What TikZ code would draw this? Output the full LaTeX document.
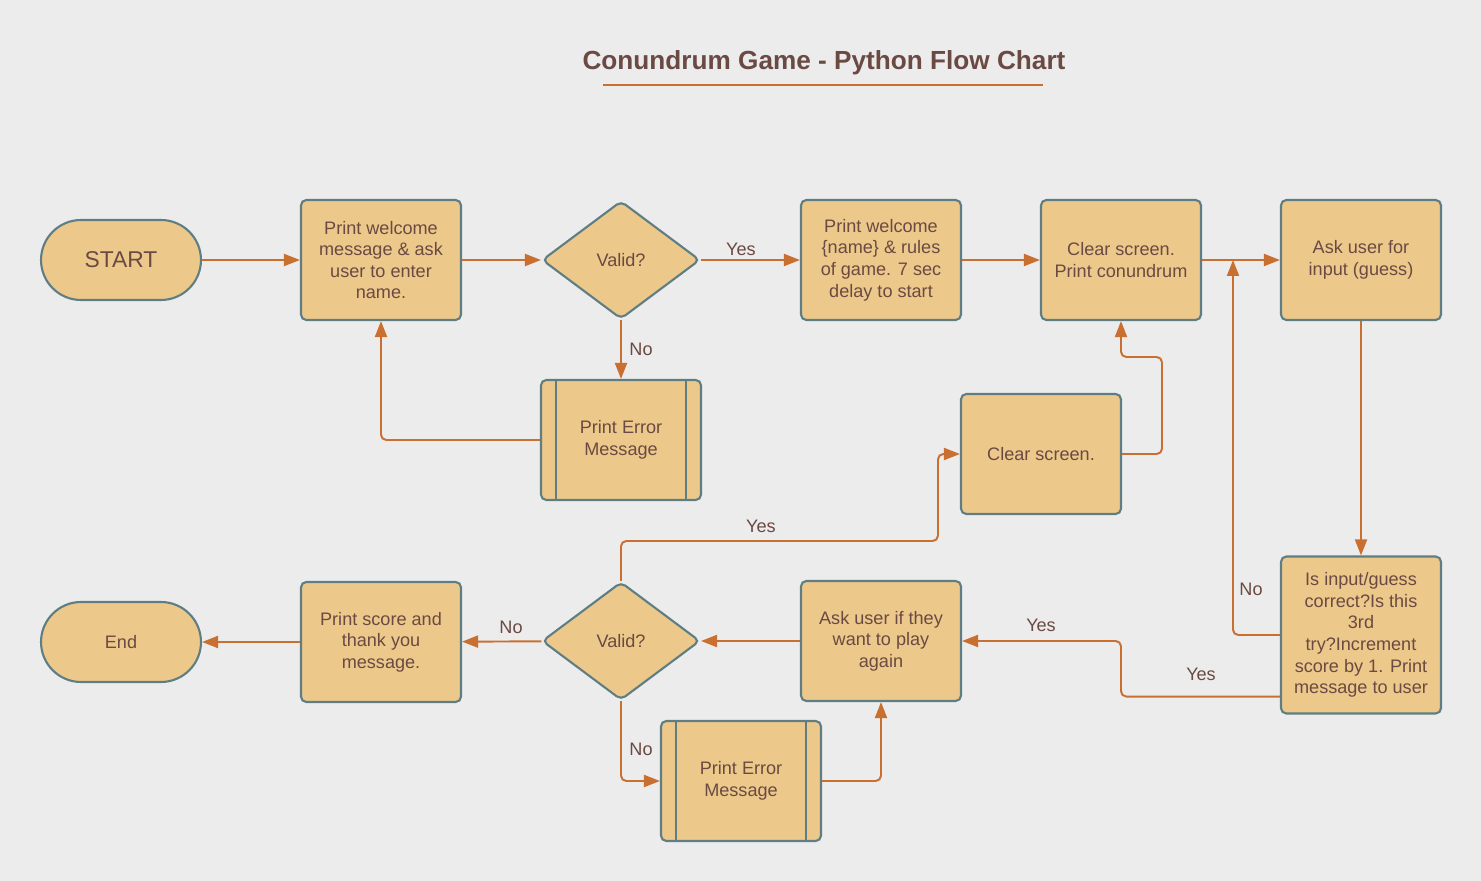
\documentclass[tikz,border=0pt]{standalone}
\usepackage{fontspec}
\setmainfont{Liberation Sans}
\usetikzlibrary{shapes.geometric,arrows.meta,calc}
\definecolor{bg}{HTML}{ECECEC}
\definecolor{boxfill}{HTML}{EDC88B}
\definecolor{boxline}{HTML}{5E7E83}
\definecolor{flow}{HTML}{C96F30}
\definecolor{ink}{HTML}{6A4A42}

\begin{document}
\begin{tikzpicture}[x=0.02cm,y=-0.02cm]
\tikzstyle{block}=[rectangle, draw=boxline, fill=boxfill, line width=1.2pt, rounded corners=3pt, minimum width=3.2cm, minimum height=2.4cm, inner sep=0pt, align=center, text=ink, font=\fontsize{10.3}{12.3}\selectfont]
\tikzstyle{term}=[block, minimum height=1.6cm, rounded corners=0.8cm]
\tikzstyle{decision}=[diamond, draw=boxline, fill=boxfill, line width=1.2pt, rounded corners=3pt, minimum width=3.16cm, minimum height=2.36cm, inner sep=0pt, text=ink, font=\fontsize{10.3}{12.3}\selectfont]
\tikzstyle{flowline}=[draw=flow, line width=1.1pt, rounded corners=3pt, -{Triangle[length=0.32cm,width=0.24cm]}]
\tikzstyle{tag}=[text=ink, font=\fontsize{10.3}{12.3}\selectfont, inner sep=1pt]

\fill[bg] (0,0) rectangle (1481,881);
\useasboundingbox (0,0) rectangle (1481,881);

% title
\node[text=ink, font=\fontsize{14.9}{17}\bfseries\selectfont] (title) at (824,63) {Conundrum Game - Python Flow Chart};
\coordinate (ulA) at (603,85);
\coordinate (ulB) at (1043,85);
\draw[flow, line width=1.2pt] (ulA) -- (ulB);

% top row
\node[term, font=\fontsize{13}{15}\selectfont] (start) at (121,260) {START};
\node[block] (welcome) at (381,260) {Print welcome\\message \& ask\\user to enter\\name.};
\node[decision] (valid1) at (621,260) {Valid?};
\node[block] (rules) at (881,260) {Print welcome\\\{name\} \& rules\\of game. 7 sec\\delay to start};
\node[block] (conund) at (1121,260) {Clear screen.\\Print conundrum};
\node[block] (guess) at (1361,260) {Ask user for\\input (guess)};

% middle
\node[block] (err1) at (621,440) {Print Error\\Message};
\node[block] (clear2) at (1041,454) {Clear screen.};
\node[block, minimum height=3.14cm] (check) at (1361,635) {Is input/guess\\correct?Is this\\3rd\\try?Increment\\score by 1. Print\\message to user};

% bottom row
\node[term] (end) at (121,642) {End};
\node[block] (score) at (381,642) {Print score and\\thank you\\message.};
\node[decision] (valid2) at (621,641) {Valid?};
\node[block] (again) at (881,641) {Ask user if they\\want to play\\again};
\node[block] (err2) at (741,781) {Print Error\\Message};

\foreach \n in {err1,err2}
  \draw[boxline, line width=1.2pt] ([xshift=0.32cm]\n.north west) -- ([xshift=0.32cm]\n.south west)
    ([xshift=-0.32cm]\n.north east) -- ([xshift=-0.32cm]\n.south east);

\coordinate (join) at (1233,260);

\path[every edge/.style={flowline}]
(start) edge (welcome)
(welcome) edge (valid1)
(valid1) edge (rules)
         edge (err1)
(rules) edge (conund)
(conund) edge (guess)
(guess) edge (check)
(again) edge (valid2)
(valid2) edge (score)
(score) edge (end);

\draw[flowline] (err1.west) -| (welcome.south);
\draw[flowline] (check.west) -| (join);
\draw[flowline] ($(check.south west)+(0,-18)$) -| (1121,641) -- (again.east);
\draw[flowline] (valid2.north) |- (938,541) |- (clear2.west);
\draw[flowline] (clear2.east) -| (1162,357) -| (conund.south);
\draw[flowline] (valid2.south) |- (err2.west);
\draw[flowline] (err2.east) -| (again.south);

% labels
\node[tag] (y1) at (741,249) {Yes};
\node[tag] (n1) at (641,349) {No};
\node[tag] (n2) at (1251,589) {No};
\node[tag] (y2) at (1201,674) {Yes};
\node[tag] (y3) at (1041,625) {Yes};
\node[tag] (n3) at (511,627) {No};
\node[tag] (y4) at (761,526) {Yes};
\node[tag] (n4) at (641,749) {No};
\end{tikzpicture}
\end{document}
